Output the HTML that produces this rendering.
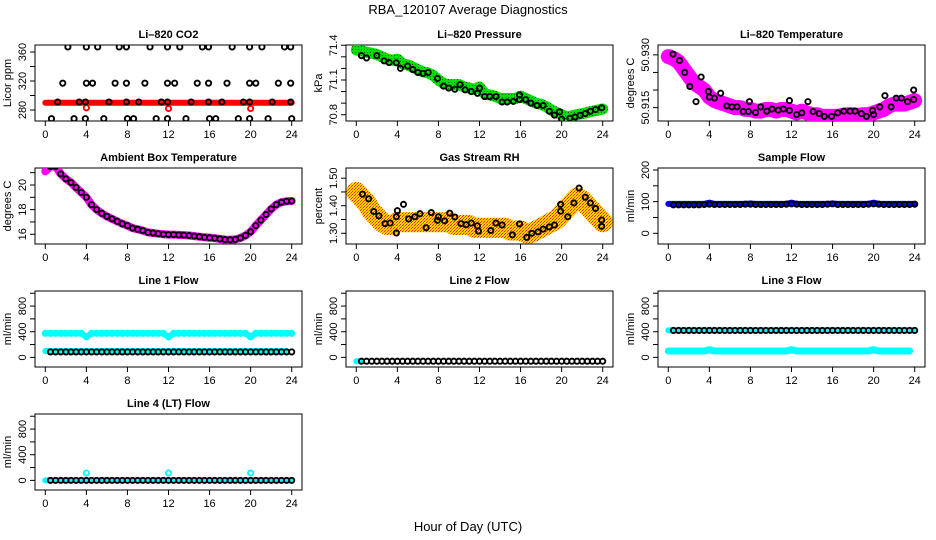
<!DOCTYPE html>
<html><head><meta charset="utf-8"><style>
html,body{margin:0;padding:0;background:#fff;}
svg{display:block;font-family:"Liberation Sans",sans-serif;}
</style></head><body>
<svg id="chart" width="936" height="540" viewBox="0 0 936 540">
<defs>
<pattern id="greenDots" width="3" height="3" patternUnits="userSpaceOnUse"><rect width="3" height="3" fill="#00e000"/><rect x="1" y="1" width="1" height="1" fill="#1a5a1a"/></pattern>
<pattern id="rhSpeckle" width="3" height="3" patternUnits="userSpaceOnUse"><rect width="3" height="3" fill="#ffd200"/><rect x="0" y="0" width="1" height="1" fill="#e03000"/><rect x="2" y="1" width="1" height="1" fill="#ff8000"/><rect x="1" y="2" width="1" height="1" fill="#e03000"/></pattern>
</defs>
<text x="468" y="14" text-anchor="middle" font-size="13">RBA_120107  Average Diagnostics</text>
<text x="468" y="531" text-anchor="middle" font-size="13">Hour of Day (UTC)</text>
</svg>
<script>
// ---- data ----
const hourGrid = [0,0.5,1,1.5,2,2.5,3,3.5,4,4.5,5,5.5,6,6.5,7,7.5,8,8.5,9,9.5,10,10.5,11,11.5,12,12.5,13,13.5,14,14.5,15,15.5,16,16.5,17,17.5,18,18.5,19,19.5,20,20.5,21,21.5,22,22.5,23,23.5,24];
const xTicks = [0,4,8,12,16,20,24];

const co2Red = [290,290,290,290,290,290,290,290,290,290,290,290,290,290,290,290,290,290,290,290,290,290,290,290,290,290,290,290,290,290,290,290,290,290,290,290,290,290,290,290,290,290,290,290,290,290,290,290,290];
const co2RedOutHours = [4,12,20];
const co2RedOutVals = [283,282,282];
const co2BlackHours = [2.2,4.0,5.1,7.2,7.9,10.2,11.9,13.1,15.3,15.9,18.2,19.9,21.1,23.3,23.9, 1.7,4.0,4.6,6.8,7.9,9.7,11.9,12.6,14.8,15.9,17.7,19.9,20.5,22.7,23.9, 1.2,3.3,3.9,6.2,7.9,9.1,11.3,11.9,14.2,15.9,17.2,19.3,19.9,22.1,23.9, 0.6,2.8,3.9,5.7,8.0,8.6,10.8,11.9,13.7,16.0,16.6,18.8,19.9,21.7,24.0];
const co2BlackVals = [367,367,367,367,367,367,367,367,367,367,367,367,367,367,367, 317,317,317,317,317,317,317,317,317,317,317,317,317,317,317, 291,291,291,291,291,291,291,291,291,291,291,291,291,291,291, 268,268,268,268,268,268,268,268,268,268,268,268,268,268,268];

const presGreen = [71.36,71.35,71.34,71.33,71.32,71.30,71.28,71.27,71.28,71.24,71.23,71.21,71.19,71.17,71.16,71.14,71.10,71.07,71.06,71.06,71.06,71.04,71.03,71.02,71.04,70.98,70.97,70.96,70.94,70.94,70.94,70.94,70.96,70.94,70.92,70.90,70.89,70.87,70.84,70.82,70.80,70.78,70.79,70.80,70.81,70.82,70.83,70.84,70.85];
const presBlackHours = [0.5,1.0,2.0,2.7,3.2,3.9,4.3,5.0,5.5,6.0,6.5,7.0,7.9,8.5,9.0,9.6,10.1,10.6,11.2,11.8,12.0,12.5,13.0,13.6,14.2,14.7,15.3,15.9,15.9,16.5,17.0,17.6,18.2,18.8,19.3,19.8,20.0,20.8,21.3,21.8,22.3,22.8,23.3,23.9];
const presBlackVals = [71.31,71.29,71.31,71.265,71.25,71.248,71.20,71.22,71.19,71.165,71.157,71.165,71.113,71.047,71.03,71.02,71.06,71.015,71.0,70.985,71.03,70.957,70.957,70.957,70.91,70.91,70.915,70.97,70.93,70.93,70.90,70.88,70.88,70.83,70.797,70.825,70.762,70.77,70.78,70.795,70.81,70.83,70.845,70.86];

const tempMag = [50.9295,50.929,50.928,50.926,50.924,50.922,50.921,50.920,50.918,50.917,50.9165,50.916,50.9155,50.915,50.915,50.9145,50.9145,50.914,50.914,50.9145,50.9145,50.914,50.9145,50.9145,50.914,50.9135,50.914,50.9135,50.913,50.913,50.9125,50.9125,50.9125,50.9125,50.9128,50.913,50.913,50.9128,50.913,50.913,50.9135,50.914,50.9145,50.9155,50.916,50.916,50.916,50.9165,50.917];
const tempBlackHours = [0.46,1.1,1.6,3.2,2.1,2.7,3.9,4.0,4.5,5.1,5.7,6.2,6.7,7.3,7.8,7.9,8.5,9.0,9.6,10.1,10.7,11.2,11.8,11.8,12.5,13.0,13.6,14.1,14.7,15.2,15.9,16.5,17.1,17.7,18.2,18.8,19.3,19.9,20.0,20.6,21.1,21.7,22.2,22.7,23.3,23.9,23.9];
const tempBlackVals = [50.9302,50.9284,50.925,50.9237,50.921,50.9167,50.9196,50.918,50.9177,50.9191,50.9155,50.9152,50.9152,50.9139,50.9139,50.9167,50.9136,50.9152,50.914,50.9146,50.9143,50.9146,50.917,50.9142,50.913,50.9135,50.9167,50.9139,50.9133,50.9125,50.9125,50.9135,50.914,50.914,50.914,50.9133,50.9125,50.9142,50.913,50.9152,50.9184,50.9152,50.9177,50.9177,50.9167,50.92,50.9173];

const ambVals = [21.1,21.5,21.5,20.9,20.5,20.2,19.8,19.4,19.0,18.4,18.0,17.7,17.45,17.25,17.05,16.85,16.7,16.5,16.4,16.3,16.15,16.1,16.05,16.0,15.97,15.97,15.95,15.93,15.9,15.85,15.8,15.75,15.72,15.68,15.62,15.57,15.55,15.58,15.7,15.9,16.2,16.7,17.15,17.6,18.05,18.4,18.6,18.68,18.7];

const rhBand = [1.45,1.43,1.41,1.38,1.36,1.34,1.33,1.33,1.34,1.34,1.34,1.34,1.34,1.34,1.34,1.34,1.34,1.34,1.34,1.33,1.33,1.33,1.33,1.32,1.32,1.32,1.32,1.32,1.32,1.32,1.31,1.31,1.31,1.30,1.30,1.31,1.32,1.33,1.34,1.35,1.37,1.39,1.41,1.43,1.42,1.40,1.38,1.36,1.34];
const rhBlackHours = [0.6,1.2,1.7,2.2,2.8,3.3,3.9,3.9,4.0,4.6,5.1,5.7,6.2,6.8,7.3,7.9,8.0,8.6,9.1,9.6,10.2,10.7,11.2,11.8,11.9,13.1,13.6,14.2,15.2,15.9,16.6,17.1,17.7,18.2,18.8,19.3,19.9,19.9,20.6,21.2,21.7,22.3,22.8,23.3,23.9,23.9];
const rhBlackVals = [1.442,1.425,1.379,1.363,1.335,1.337,1.301,1.36,1.382,1.405,1.352,1.36,1.371,1.32,1.375,1.347,1.36,1.345,1.373,1.359,1.335,1.331,1.337,1.327,1.308,1.31,1.337,1.33,1.294,1.334,1.285,1.3,1.305,1.315,1.323,1.33,1.38,1.405,1.36,1.41,1.464,1.431,1.41,1.39,1.348,1.325];

const sampleBlue = [93,93,93,93,93,93,93,93,97,93,93,93,93,93,93,93,94,93,93,93,93,93,93,93,97,93,93,93,93,93,93,93,94,93,93,93,93,93,93,93,97,93,93,93,93,93,93,93,93];
const sampleBlack = [90,90,90,90,90,90,90,91,92,91,91,91,91,91,91,92,92,91,91,91,91,91,91,92,93,92,91,91,91,91,91,92,93,91,91,91,91,91,91,92,93,92,91,91,91,91,91,91,92];

const line1CyanHigh = [375,375,375,375,375,375,375,375,320,375,375,375,375,375,375,375,375,375,375,375,375,375,375,375,320,375,375,375,375,375,375,375,375,375,375,375,375,375,375,375,320,375,375,375,375,375,375,375,375];
const line1CyanLow = [100,100,100,100,100,100,100,100,100,100,100,100,100,100,100,100,100,100,100,100,100,100,100,100,100,100,100,100,100,100,100,100,100,100,100,100,100,100,100,100,100,100,100,100,100,100,100,100,100];
const line1Black = [85,85,85,85,85,85,85,85,85,85,85,85,85,85,85,85,85,85,85,85,85,85,85,85,85,85,85,85,85,85,85,85,85,85,85,85,85,85,85,85,85,85,85,85,85,85,85,85,85];
const line2Black = [-60,-60,-60,-60,-60,-60,-60,-60,-60,-60,-60,-60,-60,-60,-60,-60,-60,-60,-60,-60,-60,-60,-60,-60,-60,-60,-60,-60,-60,-60,-60,-60,-60,-60,-60,-60,-60,-60,-60,-60,-60,-60,-60,-60,-60,-60,-60,-60,-60];
const line3High = [420,420,420,420,420,420,420,420,420,420,420,420,420,420,420,420,420,420,420,420,420,420,420,420,420,420,420,420,420,420,420,420,420,420,420,420,420,420,420,420,420,420,420,420,420,420,420,420,420];
const line3CyanLow = [100,100,100,100,100,100,100,100,120,100,100,100,100,100,100,100,100,100,100,100,100,100,100,100,120,100,100,100,100,100,100,100,100,100,100,100,100,100,100,100,120,100,100,100,100,100,100,100,100];
const line4Black = [0,0,0,0,0,0,0,0,0,0,0,0,0,0,0,0,0,0,0,0,0,0,0,0,0,0,0,0,0,0,0,0,0,0,0,0,0,0,0,0,0,0,0,0,0,0,0,0,0];
const line4CyanHours = [4,12,20];
const line4CyanVals = [115,115,115];

// ---- drawing ----
const NS = "http://www.w3.org/2000/svg";
const svg = document.getElementById('chart');
const colL = [35,346,658], rowT = [45,168,291,414], W = 267, H = 76;

function mk(tag, attrs, parent){
  const e = document.createElementNS(NS, tag);
  for (const k in attrs) e.setAttribute(k, attrs[k]);
  (parent||svg).appendChild(e);
  return e;
}

function panel(key, col, row, title, ylab, ymin, ymax, ticks, labels, fmt){
  const L = colL[col], T = rowT[row];
  const g = mk('g', {});
  
  
  const sx = h => L + 10.3 + h * (W - 20.6) / 24;
  const sy = v => T + H - (v - ymin) / (ymax - ymin) * H;
  const box = mk('rect', {x:L, y:T, width:W, height:H, fill:'none', stroke:'#000', 'stroke-width':1}, g);
  
  
  const t = mk('text', {x:L + W/2, y:T - 7, 'text-anchor':'middle', 'font-size':11, 'font-weight':'bold'}, g);
  t.textContent = title;
  
  
  const xa = mk('g', {}, g);
  
  
  mk('line', {x1:sx(0), x2:sx(24), y1:T+H, y2:T+H, stroke:'#000'}, xa);
  xTicks.forEach(h => {
    mk('line', {x1:sx(h), x2:sx(h), y1:T+H, y2:T+H+5, stroke:'#000'}, xa);
    const tl = mk('text', {x:sx(h), y:T+H+17, 'text-anchor':'middle', 'font-size':11}, xa);
    tl.textContent = h;
    
    
  });
  const ya = mk('g', {}, g);
  
  
  mk('line', {x1:L, x2:L, y1:sy(ticks[0]), y2:sy(ticks[ticks.length-1]), stroke:'#000'}, ya);
  ticks.forEach(v => mk('line', {x1:L-5, x2:L, y1:sy(v), y2:sy(v), stroke:'#000'}, ya));
  labels.forEach(v => {
    const x = L - 9, y = sy(v);
    const tl = mk('text', {x:x, y:y, 'text-anchor':'middle', 'font-size':11, transform:'rotate(-90 '+x+' '+y+')'}, ya);
    tl.textContent = fmt ? fmt(v) : v;
    
    
  });
  const yx = L - 24, yy = T + H/2;
  const yl = mk('text', {x:yx, y:yy, 'text-anchor':'middle', 'font-size':11, transform:'rotate(-90 '+yx+' '+yy+')'}, g);
  yl.textContent = ylab;
  
  
  const clipId = 'clip-' + key;
  const cp = mk('clipPath', {id: clipId}, g);
  mk('rect', {x:L, y:T, width:W, height:H}, cp);
  const plot = mk('g', {'clip-path':'url(#'+clipId+')'}, g);
  return {sx, sy, plot, key};
}

function band(p, hours, vals, color, width, name, from, to){
  let pts = [];
  hours.forEach((h,i) => { if ((from===undefined || h>=from) && (to===undefined || h<=to)) pts.push(p.sx(h).toFixed(1)+','+p.sy(vals[i]).toFixed(1)); });
  const pl = mk('polyline', {points:pts.join(' '), fill:'none', stroke:color, 'stroke-width':width, 'stroke-linecap':'round', 'stroke-linejoin':'round'}, p.plot);
  
  
}

function pts(p, hours, vals, color, name, from, r, sw){
  const g = mk('g', {}, p.plot);
  
  
  hours.forEach((h,i) => {
    if (from !== undefined && h < from) return;
    const c = mk('circle', {cx:p.sx(h), cy:p.sy(vals[i]), r:r||2.6, fill:'none', stroke:color, 'stroke-width':sw||1.9}, g);
    
    
  });
}

// Panel 1: CO2
let p = panel('co2', 0, 0, 'Li\u2013820 CO2', 'Licor ppm', 264.8, 369.7, [280,300,320,340,360], [280,320,360]);
band(p, hourGrid, co2Red, '#ff0000', 6, 'co2-red-band');
pts(p, co2RedOutHours, co2RedOutVals, '#ff0000', 'co2-red-points');
pts(p, co2BlackHours, co2BlackVals, '#000', 'co2-black-points');

// Panel 2: Pressure
p = panel('pressure', 1, 0, 'Li\u2013820 Pressure', 'kPa', 70.746, 71.402, [70.8,70.9,71.0,71.1,71.2,71.3,71.4], [70.8,71.1,71.4], v=>v.toFixed(1));
band(p, hourGrid, presGreen, 'url(#greenDots)', 11, 'pressure-green-band');
pts(p, presBlackHours, presBlackVals, '#000', 'pressure-black-points');

// Panel 3: Temperature
p = panel('li820-temp', 2, 0, 'Li\u2013820 Temperature', 'degrees C', 50.9112, 50.9328, [50.915,50.920,50.925,50.930], [50.915,50.930], v=>v.toFixed(3));
band(p, hourGrid, tempMag, '#ff00ff', 15, 'temp-magenta-band');
pts(p, tempBlackHours, tempBlackVals, '#000', 'temp-black-points');

// Panel 4: Ambient
p = panel('ambient', 0, 1, 'Ambient Box Temperature', 'degrees C', 15.21, 21.38, [16,17,18,19,20,21], [16,18,20]);
band(p, hourGrid, ambVals, '#ff00ff', 8, 'ambient-magenta-band');
pts(p, hourGrid, ambVals, '#000', 'ambient-black-points', 0.5);

// Panel 5: RH
p = panel('rh', 1, 1, 'Gas Stream RH', 'percent', 1.261, 1.537, [1.30,1.35,1.40,1.45,1.50], [1.30,1.40,1.50], v=>v.toFixed(2));
band(p, hourGrid, rhBand, 'url(#rhSpeckle)', 20, 'rh-orange-band');
pts(p, rhBlackHours, rhBlackVals, '#000', 'rh-black-points');

// Panel 6: Sample flow
p = panel('sample-flow', 2, 1, 'Sample Flow', 'ml/min', -33.8, 206.3, [0,50,100,150,200], [0,100,200]);
band(p, hourGrid, sampleBlue, '#0000ff', 6, 'sample-blue-band');
pts(p, hourGrid, sampleBlack, '#000', 'sample-black-points', 0.5);

const flowTicks = [0,200,400,600,800,1000], flowLabels = [0,400,800];
// Line 1
p = panel('line1', 0, 2, 'Line 1 Flow', 'ml/min', -150, 1035, flowTicks, flowLabels);
band(p, hourGrid, line1CyanHigh, '#00ffff', 6, 'line1-cyan-high-band');
pts(p, hourGrid, line1CyanHigh, '#00ffff', 'line1-cyan-dips');
band(p, hourGrid, line1CyanLow, '#00ffff', 6, 'line1-cyan-low-band', 0, 23.5);
pts(p, hourGrid, line1Black, '#000', 'line1-black-points', 0.5);
// Line 2
p = panel('line2', 1, 2, 'Line 2 Flow', 'ml/min', -150, 1035, flowTicks, flowLabels);
band(p, hourGrid, line2Black, '#00ffff', 6, 'line2-cyan-band', 0, 0.5);
pts(p, hourGrid, line2Black, '#000', 'line2-black-points', 0.5);
// Line 3
p = panel('line3', 2, 2, 'Line 3 Flow', 'ml/min', -150, 1035, flowTicks, flowLabels);
band(p, hourGrid, line3High, '#00ffff', 6, 'line3-cyan-high-band');
band(p, hourGrid, line3CyanLow, '#00ffff', 7, 'line3-cyan-low-band', 0, 23.8);
pts(p, hourGrid, line3High, '#000', 'line3-black-points', 0.5);
// Line 4
p = panel('line4', 0, 3, 'Line 4 (LT) Flow', 'ml/min', -150, 1035, flowTicks, flowLabels);
band(p, hourGrid, line4Black, '#00ffff', 6, 'line4-cyan-band');
pts(p, line4CyanHours, line4CyanVals, '#00ffff', 'line4-cyan-points');
pts(p, hourGrid, line4Black, '#000', 'line4-black-points', 0.5);
</script>
</body></html>
